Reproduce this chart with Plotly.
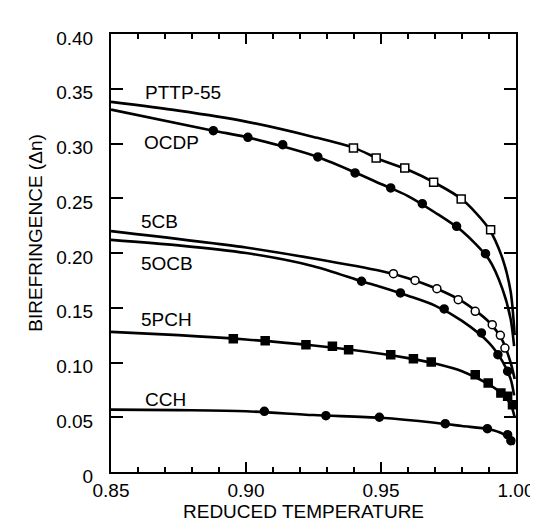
import plotly.graph_objects as go

# ---- data ----
x_tick_start = 0.85
x_tick_step = 0.05
y_ticks = [0, 0.05, 0.10, 0.15, 0.20, 0.25, 0.30, 0.35, 0.40]
y_ticklabels = ["0", "0.05", "0.10", "0.15", "0.20", "0.25", "0.30", "0.35", "0.40"]

# fitted curves (knots)
pttp_line_x = [0.85, 0.875, 0.90, 0.925, 0.94, 0.95, 0.96, 0.97, 0.98, 0.99, 0.995, 0.998, 0.9995]
pttp_line_y = [0.338, 0.330, 0.320, 0.306, 0.296, 0.285, 0.276, 0.264, 0.249, 0.222, 0.195, 0.165, 0.125]
ocdp_line_x = [0.85, 0.8879, 0.90, 0.925, 0.94, 0.95, 0.96, 0.97, 0.98, 0.99, 0.995, 0.998, 0.9993]
ocdp_line_y = [0.331, 0.3117, 0.306, 0.289, 0.274, 0.263, 0.252, 0.237, 0.220, 0.194, 0.167, 0.140, 0.115]
cb5_line_x = [0.85, 0.90, 0.925, 0.95, 0.96, 0.97, 0.98, 0.99, 0.995, 0.998, 0.9995]
cb5_line_y = [0.220, 0.205, 0.195, 0.1835, 0.177, 0.168, 0.156, 0.137, 0.120, 0.100, 0.085]
ocb5_line_x = [0.85, 0.875, 0.90, 0.925, 0.9428, 0.95, 0.96, 0.97, 0.98, 0.99, 0.995, 0.998, 0.9993]
ocb5_line_y = [0.212, 0.207, 0.200, 0.188, 0.1742, 0.169, 0.161, 0.152, 0.138, 0.118, 0.101, 0.085, 0.070]
pch5_line_x = [0.85, 0.875, 0.90, 0.925, 0.95, 0.96, 0.97, 0.98, 0.99, 0.995, 0.998, 0.9995]
pch5_line_y = [0.128, 0.125, 0.121, 0.1155, 0.108, 0.104, 0.099, 0.092, 0.080, 0.071, 0.062, 0.050]
cch_line_x = [0.85, 0.875, 0.90, 0.925, 0.95, 0.97, 0.98, 0.99, 0.995, 0.998, 0.9993]
cch_line_y = [0.057, 0.0565, 0.0555, 0.052, 0.0495, 0.045, 0.042, 0.039, 0.035, 0.029, 0.025]

# measured points
pttp_pts_x = [0.9398, 0.9482, 0.9588, 0.9695, 0.9797, 0.9906]
pttp_pts_y = [0.2959, 0.2868, 0.2776, 0.2645, 0.2493, 0.2213]
ocdp_pts_x = [0.8879, 0.9007, 0.9136, 0.9266, 0.9404, 0.9536, 0.9653, 0.9780, 0.9887]
ocdp_pts_y = [0.3117, 0.3056, 0.2989, 0.2877, 0.2731, 0.2594, 0.2450, 0.2244, 0.1994]
cb5_pts_x = [0.9546, 0.9626, 0.9707, 0.9786, 0.9849, 0.9912, 0.9942, 0.9959]
cb5_pts_y = [0.1811, 0.1750, 0.1674, 0.1574, 0.1467, 0.1345, 0.1248, 0.1132]
ocb5_pts_x = [0.9428, 0.9572, 0.9734, 0.9872, 0.9933, 0.9969]
ocb5_pts_y = [0.1742, 0.1635, 0.1489, 0.1270, 0.1071, 0.0920]
pch5_pts_x = [0.8953, 0.9071, 0.9222, 0.9320, 0.9380, 0.9536, 0.9620, 0.9686, 0.9849, 0.9897, 0.9944, 0.9969, 0.9987]
pch5_pts_y = [0.1217, 0.1199, 0.1163, 0.1148, 0.1117, 0.1071, 0.1035, 0.1005, 0.0889, 0.0813, 0.0721, 0.0691, 0.0615]
cch_pts_x = [0.9068, 0.9296, 0.9494, 0.9738, 0.9894, 0.9969, 0.9981]
cch_pts_y = [0.0554, 0.0514, 0.0500, 0.0441, 0.0396, 0.0341, 0.0286]

labels = ["PTTP-55", "OCDP", "5CB", "5OCB", "5PCH", "CCH"]
label_x = [0.8617, 0.8614, 0.8602, 0.8602, 0.8602, 0.8617]
label_y = [0.347, 0.3008, 0.229, 0.190, 0.139, 0.066]

FONT = "Liberation Sans, Arial, sans-serif"
fig = go.Figure()

lines = [(pttp_line_x, pttp_line_y), (ocdp_line_x, ocdp_line_y), (cb5_line_x, cb5_line_y),
         (ocb5_line_x, ocb5_line_y), (pch5_line_x, pch5_line_y), (cch_line_x, cch_line_y)]
for lx, ly in lines:
    fig.add_trace(go.Scatter(x=lx, y=ly, mode="lines",
                             line=dict(color="black", width=2.6, shape="spline", smoothing=0.8),
                             hoverinfo="skip"))

pts = [(pttp_pts_x, pttp_pts_y, "square", "white"),
       (ocdp_pts_x, ocdp_pts_y, "circle", "black"),
       (cb5_pts_x, cb5_pts_y, "circle", "white"),
       (ocb5_pts_x, ocb5_pts_y, "circle", "black"),
       (pch5_pts_x, pch5_pts_y, "square", "black"),
       (cch_pts_x, cch_pts_y, "circle", "black")]
for px, py, sym, fill in pts:
    fig.add_trace(go.Scatter(x=px, y=py, mode="markers",
                             marker=dict(symbol=sym, size=8, color=fill,
                                         line=dict(color="black", width=1.5))))

for t, lx, ly in zip(labels, label_x, label_y):
    fig.add_annotation(x=lx, y=ly, text=t, showarrow=False, xanchor="left", yanchor="middle",
                       font=dict(family=FONT, size=19, color="black"))

fig.add_annotation(xref="paper", yref="paper", x=-0.186, y=0.5457, text="BIREFRINGENCE (\u0394n)",
                   textangle=-90, showarrow=False, xanchor="center", yanchor="middle",
                   font=dict(family=FONT, size=19, color="black"))
fig.add_annotation(xref="paper", yref="paper", x=0.4745, y=-0.0905, text="REDUCED TEMPERATURE",
                   showarrow=False, xanchor="center", yanchor="middle",
                   font=dict(family=FONT, size=19, color="black"))

fig.update_layout(
    width=538, height=529, autosize=False,
    margin=dict(l=102.5, r=19.3, t=26, b=65),
    plot_bgcolor="white", paper_bgcolor="white",
    showlegend=False,
    font=dict(family=FONT, size=19, color="black"),
)
fig.update_xaxes(range=[0.85, 1.0], tickmode="linear", tick0=x_tick_start, dtick=x_tick_step,
                 tickformat=".2f",
                 ticks="inside", ticklen=10, tickwidth=2, tickcolor="black",
                 minor=dict(dtick=0.01, tick0=x_tick_start, ticks="inside", ticklen=5,
                            tickwidth=2, tickcolor="black", showgrid=False),
                 showline=True, linecolor="black", linewidth=2, mirror="ticks",
                 showgrid=False, zeroline=False, ticklabelstandoff=0)
fig.update_yaxes(range=[0, 0.40], tickvals=y_ticks, ticktext=y_ticklabels,
                 ticks="inside", ticklen=12, tickwidth=2, tickcolor="black",
                 showline=True, linecolor="black", linewidth=2, mirror="ticks",
                 showgrid=False, zeroline=False, ticklabelstandoff=12, ticklabelshift=4)

fig.write_html("out.html")
